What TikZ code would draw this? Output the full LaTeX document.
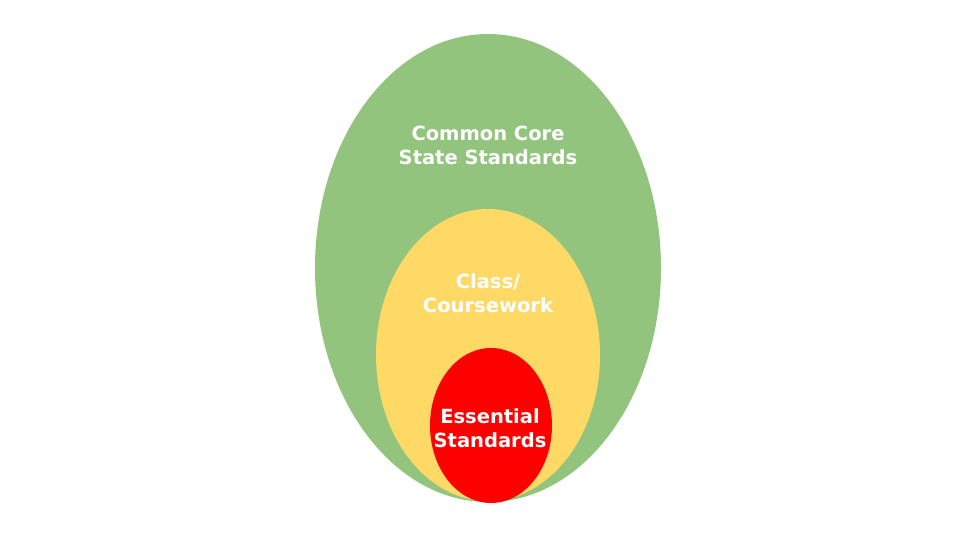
\documentclass[tikz,border=0pt]{standalone}
\usepackage{fontspec}
\setmainfont{DejaVu Sans}
\usepackage{xcolor}
\usetikzlibrary{shapes.geometric,positioning}
\definecolor{ccgreen}{RGB}{147,196,125}
\definecolor{cwyellow}{RGB}{255,217,102}
\definecolor{esred}{RGB}{255,0,0}
\begin{document}
\begin{tikzpicture}[x=1pt, y=-1pt,
    ring/.style={ellipse, draw=none, inner sep=0pt},
    lbl/.style={text=white, align=center, font=\bfseries\fontsize{19.5}{24}\selectfont}]
    \useasboundingbox (0,0) rectangle (960,540);
    \node [ring, fill=ccgreen, minimum width=346pt, minimum height=468pt] (core) at (488,268) {};
    \node [ring, fill=cwyellow, minimum width=224pt, minimum height=292pt] (course) at (488,355) {};
    \node [ring, fill=esred, minimum width=122pt, minimum height=155pt] (ess) at (491,425.5) {};

    \node [lbl] (coretxt) at (488,145) {Common Core\\State Standards};
    \node [lbl] (coursetxt) at (488,293) {Class/\\Coursework};
    \node [lbl] (esstxt) at (490,428) {Essential\\Standards};
\end{tikzpicture}
\end{document}
